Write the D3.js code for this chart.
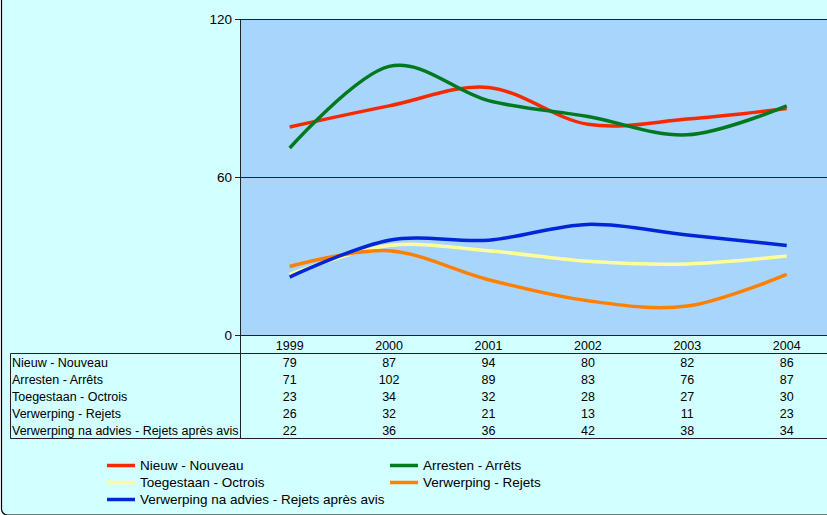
<!DOCTYPE html>
<html>
<head>
<meta charset="utf-8">
<script src="https://cdn.jsdelivr.net/npm/d3@7"></script>
<style>
  body { margin: 0; background: #ffffff; }
  svg { display: block; font-family: "Liberation Sans", Arial, sans-serif; }
</style>
</head>
<body>
<div id="chart"></div>
<script>
var years = ["1999", "2000", "2001", "2002", "2003", "2004"];
var seriesNames = [
  "Nieuw - Nouveau",
  "Arresten - Arrêts",
  "Toegestaan - Octrois",
  "Verwerping - Rejets",
  "Verwerping na advies - Rejets après avis"
];
var nieuw = [79, 87, 94, 80, 82, 86];
var arresten = [71, 102, 89, 83, 76, 87];
var toegestaan = [23, 34, 32, 28, 27, 30];
var verwerping = [26, 32, 21, 13, 11, 23];
var verwerpingAdvies = [22, 36, 36, 42, 38, 34];
var colors = ["#f52a00", "#007a1e", "#ffff99", "#ff8000", "#0026d9"];
var yTicks = [0, 60, 120];

var series = [nieuw, arresten, toegestaan, verwerping, verwerpingAdvies];

var svgWidth = 827, svgHeight = 515;
var plot = {left: 240, top: 19, bottom: 335, band: 99.4};

var svg = d3.select("#chart")
  .append("svg")
  .attr("width", svgWidth)
  .attr("height", svgHeight);

// chart area
svg.append("rect")
  .attr("x", 1.5).attr("y", -10)
  .attr("width", 900).attr("height", 525)
  .attr("rx", 6)
  .attr("fill", "#d2ffff")
  .attr("stroke", "#000")
  .attr("stroke-width", 1.2);

var x = d3.scaleBand()
  .domain(years)
  .range([plot.left, plot.left + plot.band * years.length]);
var y = d3.scaleLinear()
  .domain([0, 120])
  .range([plot.bottom, plot.top]);

// plot area
svg.append("rect")
  .attr("x", plot.left).attr("y", plot.top)
  .attr("width", x.range()[1] - plot.left)
  .attr("height", plot.bottom - plot.top)
  .attr("fill", "#a8d5fc");

// gridlines
svg.append("g")
  .selectAll("line")
  .data(yTicks)
  .join("line")
    .attr("x1", plot.left - 5)
    .attr("x2", x.range()[1])
    .attr("y1", function(d) { return Math.round(y(d)) + 0.5; })
    .attr("y2", function(d) { return Math.round(y(d)) + 0.5; })
    .attr("stroke", "#222")
    .attr("stroke-width", 1);

svg.append("g")
  .selectAll("text")
  .data(yTicks)
  .join("text")
    .attr("x", plot.left - 8)
    .attr("y", function(d) { return y(d); })
    .attr("dy", "0.35em")
    .attr("text-anchor", "end")
    .attr("font-size", 13.5)
    .text(function(d) { return d; });

// lines
var line = d3.line()
  .curve(d3.curveCardinal.tension(0))
  .x(function(d, i) { return x(years[i]) + x.bandwidth() / 2; })
  .y(function(d) { return y(d); });

svg.append("g")
  .selectAll("path")
  .data(series)
  .join("path")
    .attr("d", line)
    .attr("fill", "none")
    .attr("stroke", function(d, i) { return colors[i]; })
    .attr("stroke-width", 3.5);

// data table
var table = {left: 10.5, top: 353.5, row: 17, headerY: 345.5};
var tableBottom = table.top + table.row * seriesNames.length;

var tg = svg.append("g").attr("stroke", "#222").attr("stroke-width", 1);
tg.append("line")
  .attr("x1", table.left).attr("x2", x.range()[1])
  .attr("y1", table.top).attr("y2", table.top);
tg.append("line")
  .attr("x1", table.left).attr("x2", x.range()[1])
  .attr("y1", tableBottom).attr("y2", tableBottom);
tg.append("line")
  .attr("x1", table.left).attr("x2", table.left)
  .attr("y1", table.top).attr("y2", tableBottom);
tg.append("line")
  .attr("x1", plot.left + 0.5).attr("x2", plot.left + 0.5)
  .attr("y1", plot.top).attr("y2", tableBottom);

svg.append("g")
  .selectAll("text")
  .data(years)
  .join("text")
    .attr("x", function(d) { return x(d) + x.bandwidth() / 2; })
    .attr("y", table.headerY)
    .attr("dy", "0.35em")
    .attr("text-anchor", "middle")
    .attr("font-size", 12.5)
    .text(function(d) { return d; });

var rows = svg.append("g")
  .selectAll("g")
  .data(series)
  .join("g")
    .attr("transform", function(d, i) {
      return "translate(0," + (table.top + 1 + table.row * (i + 0.5)) + ")";
    });

rows.append("text")
  .attr("x", 12)
  .attr("dy", "0.35em")
  .attr("font-size", 12.5)
  .text(function(d, i) { return seriesNames[i]; });

rows.selectAll("text.v")
  .data(function(d) { return d; })
  .join("text")
    .attr("class", "v")
    .attr("x", function(d, i) { return x(years[i]) + x.bandwidth() / 2; })
    .attr("dy", "0.35em")
    .attr("text-anchor", "middle")
    .attr("font-size", 12.5)
    .text(function(d) { return d; });

// legend
var legendOrder = [0, 1, 2, 3, 4];
var legend = svg.append("g")
  .selectAll("g")
  .data(legendOrder)
  .join("g")
    .attr("transform", function(d, i) {
      var col = i % 2, row = Math.floor(i / 2);
      return "translate(" + (107 + col * 283) + "," + (465.5 + row * 17) + ")";
    });

legend.append("line")
  .attr("x1", 0).attr("x2", 28)
  .attr("stroke", function(d) { return colors[d]; })
  .attr("stroke-width", 3.5);

legend.append("text")
  .attr("x", 33)
  .attr("dy", "0.35em")
  .attr("font-size", 13.5)
  .text(function(d) { return seriesNames[d]; });
</script>
</body>
</html>
